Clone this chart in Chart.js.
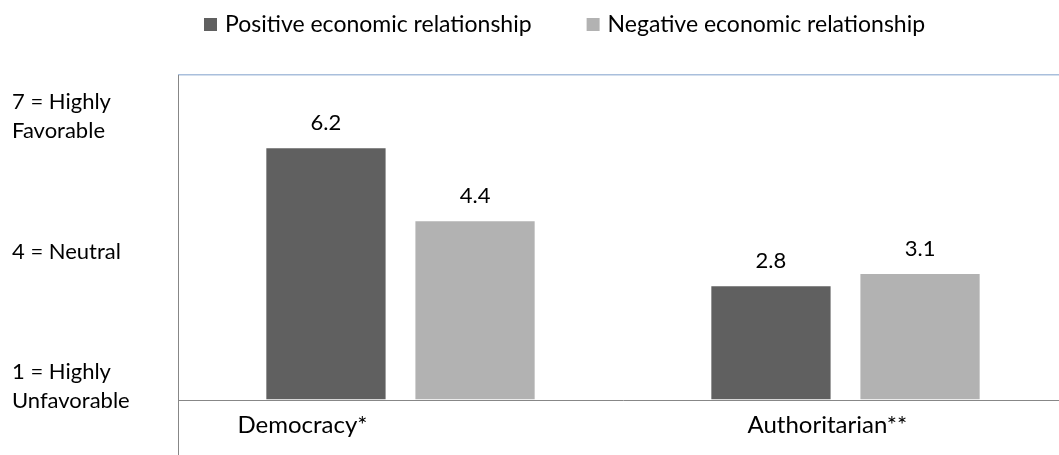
<!DOCTYPE html>
<html>
<head>
<meta charset="utf-8">
<script src="https://cdn.jsdelivr.net/npm/chart.js@4.4.1/dist/chart.umd.min.js"></script>
<style>
  html, body { margin: 0; padding: 0; background: #ffffff; overflow: hidden; }
  #wrap { position: absolute; left: 0; top: 0; width: 1070px; height: 455px; }
</style>
</head>
<body>
<div id="wrap"><canvas id="chart" width="1070" height="455"></canvas></div>
<script>
// Survey means on a 1-7 favourability scale
const categories = ['Democracy*', 'Authoritarian**'];
const seriesNames = ['Positive economic relationship', 'Negative economic relationship'];
const positiveValues = [6.2, 2.8];
const negativeValues = [4.4, 3.1];

// Anchor labels of the rating scale
const ratingTickValues = [1, 4, 7];
const ratingTickLabels = [['1 = Highly', 'Unfavorable'], '4 = Neutral', ['7 = Highly', 'Favorable']];

const FONT = 'Lato, "Open Sans", sans-serif';
const LEGEND_SIZE = 23;
const CATEGORY_SIZE = 24;
const RATING_SIZE = 22;
const VALUE_SIZE = 22;
const DARK = '#606060';
const LIGHT = '#b2b2b2';
const AXIS = '#878787';
const TOPLINE = '#a9bfdc';

// Value printed above every bar
const valueLabels = {
  id: 'valueLabels',
  afterDatasetsDraw(chart) {
    const ctx = chart.ctx;
    ctx.save();
    ctx.font = VALUE_SIZE + 'px ' + FONT;
    ctx.fillStyle = '#000';
    ctx.textAlign = 'center';
    ctx.textBaseline = 'middle';
    chart.data.datasets.forEach((ds, di) => {
      chart.getDatasetMeta(di).data.forEach((bar, i) => {
        ctx.fillText(ds.data[i].toFixed(1), bar.x, bar.y - 25);
      });
    });
    ctx.restore();
  }
};

// Category names under the axis, set left of each group's centre
const categoryShift = [-163, -98];
const categoryLabels = {
  id: 'categoryLabels',
  afterDraw(chart) {
    const ctx = chart.ctx;
    const xs = chart.scales.x;
    ctx.save();
    ctx.font = CATEGORY_SIZE + 'px ' + FONT;
    ctx.fillStyle = '#000';
    ctx.textAlign = 'left';
    ctx.textBaseline = 'middle';
    chart.data.labels.forEach((lab, i) => {
      ctx.fillText(lab, xs.getPixelForValue(i) + categoryShift[i], xs.top + 25);
    });
    ctx.restore();
  }
};

// Legend row across the top
const legendRow = {
  id: 'legendRow',
  afterDraw(chart) {
    const ctx = chart.ctx;
    ctx.save();
    ctx.font = LEGEND_SIZE + 'px ' + FONT;
    ctx.textAlign = 'left';
    ctx.textBaseline = 'middle';
    let x = 204;
    const y = 25;
    chart.data.datasets.forEach(ds => {
      ctx.fillStyle = ds.backgroundColor;
      ctx.fillRect(x, y - 7, 13, 13);
      ctx.fillStyle = '#000';
      ctx.fillText(ds.label, x + 21, y);
      x += 21 + ctx.measureText(ds.label).width + 55;
    });
    ctx.restore();
  }
};

new Chart(document.getElementById('chart'), {
  type: 'bar',
  data: {
    labels: categories,
    datasets: [
      { label: seriesNames[0], data: positiveValues, backgroundColor: DARK, yAxisID: 'y' },
      { label: seriesNames[1], data: negativeValues, backgroundColor: LIGHT, yAxisID: 'y' }
    ]
  },
  options: {
    responsive: false,
    animation: false,
    events: [],
    layout: { padding: { left: 12, top: 75, right: 2, bottom: 0 } },
    datasets: { bar: { barPercentage: 0.8, categoryPercentage: 0.67 } },
    plugins: {
      legend: { display: false },
      tooltip: { enabled: false }
    },
    scales: {
      rating: {
        type: 'linear',
        position: 'left',
        min: 0.7,
        max: 7.92,
        afterBuildTicks: axis => { axis.ticks = ratingTickValues.map(v => ({ value: v })); },
        afterFit: axis => { axis.width = 166; },
        ticks: {
          crossAlign: 'far',
          color: '#000',
          font: { family: FONT, size: RATING_SIZE, lineHeight: 1.31 },
          callback: (v) => ratingTickLabels[ratingTickValues.indexOf(v)]
        },
        grid: { drawOnChartArea: false, drawTicks: false },
        border: { display: true, color: AXIS, width: 1 }
      },
      y: {
        type: 'linear',
        position: 'left',
        min: 0,
        max: 8,
        ticks: { display: false, stepSize: 1 },
        grid: {
          drawTicks: false,
          color: ctx => (ctx.tick && ctx.tick.value === 8) ? TOPLINE : 'rgba(0,0,0,0)',
          lineWidth: 1.5
        },
        border: { display: false }
      },
      x: {
        type: 'category',
        offset: true,
        ticks: { display: false },
        grid: {
          offset: true,
          drawOnChartArea: false,
          tickLength: 55,
          color: ctx => ctx.index === 0 ? AXIS : 'rgba(0,0,0,0)'
        },
        border: { display: true, color: AXIS, width: 1 }
      }
    }
  },
  plugins: [valueLabels, categoryLabels, legendRow]
});
</script>
</body>
</html>
